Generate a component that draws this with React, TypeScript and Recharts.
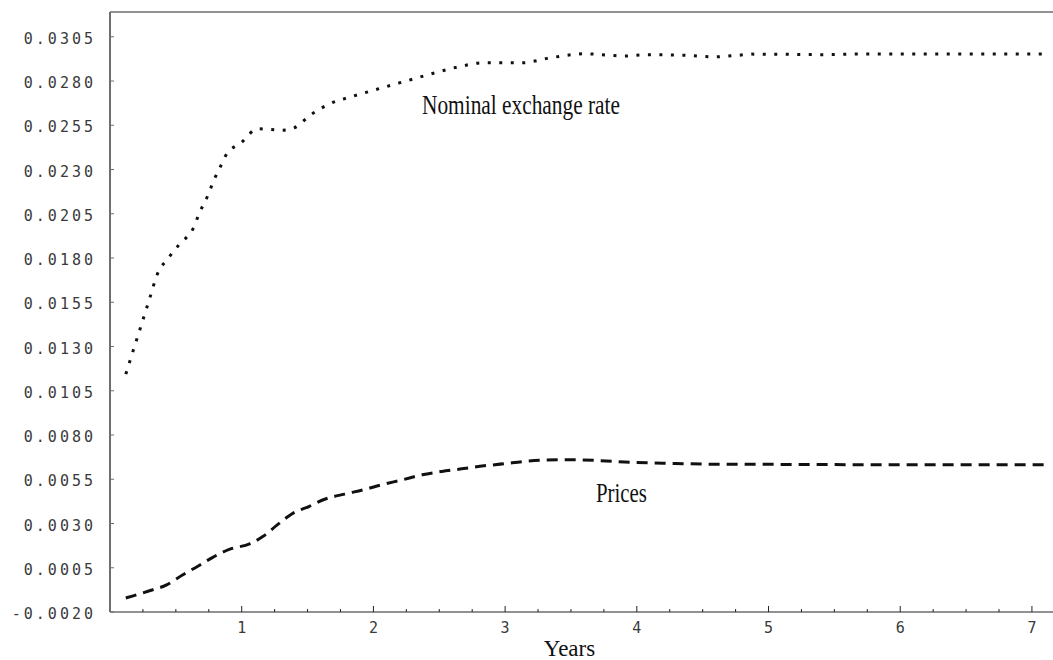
import { LineChart, Line, XAxis, YAxis, ReferenceLine, ReferenceDot } from 'recharts'

// values
const exchangeYears = [
  0.12, 0.18, 0.24, 0.3, 0.36, 0.44, 0.53, 0.63, 0.68, 0.74, 0.79, 0.85, 0.88, 1.0, 1.12, 1.22,
  1.31, 1.4, 1.52, 1.67, 1.84, 2.02, 2.2, 2.29, 2.47, 2.65, 2.84, 3.13, 3.32, 3.51, 3.61, 3.8,
  3.9, 4.09, 4.38, 4.58, 4.78, 4.87, 5.26, 5.45, 5.65, 6.0, 6.5, 7.12,
]
const exchangeRate = [
  0.01144, 0.01286, 0.01427, 0.01569, 0.0171, 0.01797, 0.0188, 0.01965, 0.02057, 0.02149, 0.02242,
  0.02334, 0.02381, 0.02454, 0.0253, 0.02526, 0.02522, 0.02536, 0.02607, 0.02672, 0.02713, 0.02752,
  0.0279, 0.02809, 0.02847, 0.02881, 0.02903, 0.02903, 0.02928, 0.02949, 0.02954, 0.02945, 0.02941,
  0.02949, 0.02945, 0.02937, 0.02946, 0.02952, 0.0295, 0.02949, 0.02952, 0.02952, 0.02952, 0.02952,
]

const priceYears = [
  0.12, 0.17, 0.3, 0.43, 0.55, 0.67, 0.78, 0.91, 1.06, 1.16, 1.27, 1.38, 1.51, 1.63, 1.78, 1.92,
  2.06, 2.22, 2.37, 2.52, 2.67, 2.84, 2.99, 3.14, 3.3, 3.47, 3.7, 3.95, 4.2, 4.58, 5.09, 6.0, 7.12,
]
const prices = [
  -0.00121, -0.0011, -0.0008, -0.00047, 0.00009, 0.0006, 0.00109, 0.00155, 0.00185, 0.00226,
  0.00292, 0.00354, 0.00396, 0.00437, 0.00466, 0.0049, 0.00518, 0.00547, 0.00575, 0.00594, 0.00609,
  0.00626, 0.00637, 0.0065, 0.00658, 0.0066, 0.00656, 0.00646, 0.00641, 0.00635, 0.00634, 0.00632,
  0.00632,
]

const yTicks = [
  -0.002, 0.0005, 0.003, 0.0055, 0.008, 0.0105, 0.013, 0.0155, 0.018, 0.0205, 0.023, 0.0255, 0.028,
  0.0305,
]
const xTicks = [
  0.25, 0.5, 0.75, 1, 1.25, 1.5, 1.75, 2, 2.25, 2.5, 2.75, 3, 3.25, 3.5, 3.75, 4, 4.25, 4.5, 4.75, 5,
  5.25, 5.5, 5.75, 6, 6.25, 6.5, 6.75, 7,
]

const exchangeData = exchangeYears.map((t, i) => ({ t, v: exchangeRate[i] }))
const priceData = priceYears.map((t, i) => ({ t, v: prices[i] }))

const Y_MIN = -0.002
const Y_MAX = 0.0319
const X_MAX = 7.16
const AXIS = '#6e6e6e'
const MONO = '"DejaVu Sans Mono", monospace'
const SERIF = '"Liberation Serif", "Times New Roman", serif'

function YTick({ x, y, payload }: any) {
  return (
    <g>
      <line x1={x} x2={x + 4} y1={y} y2={y} stroke={AXIS} />
      <text
        x={x - 14}
        y={y + 7}
        textAnchor="end"
        fontFamily={MONO}
        fontSize={15}
        letterSpacing={3}
        fill="#3a3a3a"
      >
        {payload.value.toFixed(4)}
      </text>
    </g>
  )
}

function XTick({ x, y, payload }: any) {
  const major = Number.isInteger(payload.value)
  return (
    <g>
      <line x1={x} x2={x} y1={y} y2={y - (major ? 6 : 3)} stroke="#222" />
      {major && (
        <text x={x + 1.5} y={y + 21} textAnchor="middle" fontFamily={MONO} fontSize={15} letterSpacing={3} fill="#3a3a3a">
          {payload.value}
        </text>
      )}
    </g>
  )
}

function note(text: string, width: number) {
  return (p: any) => (
    <text
      x={p.viewBox.x}
      y={p.viewBox.y}
      fontFamily={SERIF}
      fontSize={28}
      textLength={width}
      lengthAdjust="spacingAndGlyphs"
      fill="#111"
    >
      {text}
    </text>
  )
}

export default function App() {
  return (
    <div style={{ position: 'absolute', left: 0, top: 0, background: '#fff' }}>
      <LineChart width={1053} height={660} margin={{ top: 12, right: 0, bottom: 0, left: 0 }}>
        <XAxis
          dataKey="t"
          type="number"
          domain={[0, X_MAX]}
          ticks={xTicks}
          allowDataOverflow
          height={48}
          tickSize={0}
          tickMargin={0}
          tickLine={false}
          axisLine={{ stroke: AXIS, strokeWidth: 1.5 }}
          tick={<XTick />}
          interval={0}
          label={{
            content: (p: any) => (
              <text
                x={p.viewBox.x + p.viewBox.width / 2 - 12}
                y={p.viewBox.y + 44}
                textAnchor="middle"
                fontFamily={SERIF}
                fontSize={23}
                fill="#111"
              >
                Years
              </text>
            ),
          }}
        />
        <YAxis
          type="number"
          domain={[Y_MIN, Y_MAX]}
          ticks={yTicks}
          allowDataOverflow
          width={110}
          tickSize={0}
          tickMargin={0}
          tickLine={false}
          axisLine={{ stroke: AXIS, strokeWidth: 2 }}
          tick={<YTick />}
          interval={0}
        />
        <ReferenceLine y={Y_MAX} stroke={AXIS} strokeWidth={1.5} />
        <Line
          data={exchangeData}
          dataKey="v"
          type="monotone"
          stroke="#111"
          strokeWidth={3}
          strokeDasharray="3 8.5"
          dot={false}
          isAnimationActive={false}
        />
        <Line
          data={priceData}
          dataKey="v"
          type="monotone"
          stroke="#111"
          strokeWidth={3}
          strokeDasharray="11 7"
          dot={false}
          isAnimationActive={false}
        />
        <ReferenceDot x={2.369} y={0.02611} r={0} fill="none" stroke="none" label={{ content: note('Nominal exchange rate', 198) }} />
        <ReferenceDot x={3.69} y={0.00422} r={0} fill="none" stroke="none" label={{ content: note('Prices', 51) }} />
      </LineChart>
    </div>
  )
}
